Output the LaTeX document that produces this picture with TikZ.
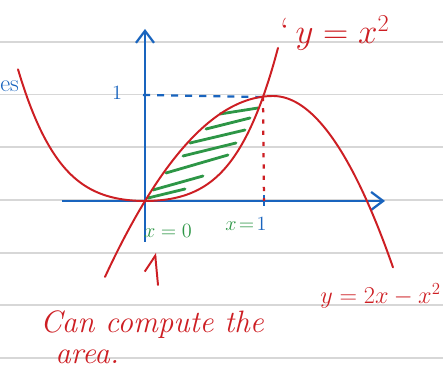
\documentclass[tikz,border=0pt]{standalone}
\usepackage{amsmath, amssymb}
\usepackage{xcolor}
\usetikzlibrary{arrows.meta, positioning, calc}
\definecolor{penred}{RGB}{205, 30, 35}
\definecolor{penblue}{RGB}{25, 100, 190}
\definecolor{pengreen}{RGB}{45, 150, 70}
\definecolor{ruling}{RGB}{215, 215, 215}

\begin{document}
\begin{tikzpicture}[
        x=0.025cm, y=-0.025cm,
        ruleline/.style = {ruling, line width=1.1pt},
        axis/.style = {penblue, line width=1.8pt, -{Straight Barb[length=3mm, width=4.5mm, line width=1.6pt]}},
        curve/.style = {penred, line width=1.4pt, line cap=round},
        hatch/.style = {pengreen, line width=2pt, line cap=round},
        guide/.style = {line width=1.6pt, dash pattern=on 5pt off 5pt},
        pointer/.style = {penred, line width=1.4pt, line cap=round, -{Straight Barb[left, length=3.7mm, width=6mm, line width=1.4pt]}},
        redlabel/.style = {penred, inner sep=0pt},
        bluelabel/.style = {penblue, inner sep=0pt},
        greenlabel/.style = {pengreen, inner sep=0pt, font=\Large}
    ]
        \useasboundingbox (0,0) rectangle (443,372);

        % Ruled paper
        \foreach \y in {42, 94.5, 147, 200, 253, 305, 358}
            \draw [ruleline] (0,\y) -- (443,\y);

        % Points
        \coordinate (O) at (145,201);
        \coordinate (xmin) at (62,201);
        \coordinate (xmax) at (385,201);
        \coordinate (ymin) at (145,242);
        \coordinate (ymax) at (145,29);
        \coordinate (yone) at (143,95);
        \coordinate (P) at (263,97);
        \coordinate (xone) at (264,201);
        \coordinate (arrtail) at (158,285);
        \coordinate (arrtip) at (155,253);

        % Axes
        \draw [axis] (xmin) -- (xmax);
        \draw [axis] (ymin) -- (ymax);
        \draw [penblue, line width=1.6pt] (264,195) -- (264,206);
        \draw [guide, penblue] (yone) -- (P);
        \draw [guide, penred, dash pattern=on 3pt off 5pt] (P) -- (xone);

        % Shaded region
        \foreach \a/\b/\c/\d in {220/114/258/108, 206/129/250/118, 190/143/245/130, 183/156/236/143,
                                 166/173/228/155, 153/190/203/176, 148/198/185/189}
            \draw [hatch] (\a,\b) -- (\c,\d);

        % Curves
        \draw [curve] plot [domain=-127:133, samples=80, smooth]
            ({145+\x}, {201-30.87*(\x/100)^2-31.47*(\x/100)^4});
        \draw [curve] plot [domain=-40:128, samples=50, smooth]
            ({145+\x}, {201-105+64.1*((\x-128)/100)^2})
            -- plot [domain=128:248, samples=50, smooth]
            ({145+\x}, {201-105+119*((\x-128)/100)^2});

        % Labels
        \node [bluelabel, font=\Large] (onelab) at (117,93) {$1$};
        \node [bluelabel, font=\LARGE, anchor=west] (es) at (0,86) {es};
        \node [greenlabel] (xzero) at (168,231) {$x = 0$};
        \node [greenlabel] (xonelab) at (246,224) {$x\!=\!{\color{penblue}1}$};
        \node [redlabel, font=\fontsize{26}{30}\selectfont, anchor=west] (sqlab) at (280,33) {\textquoteleft\,$y = x^2$};
        \node [redlabel, font=\LARGE, anchor=east] (parlab) at (441,296) {$y = 2x - x^2$};
        \node [redlabel, font=\fontsize{22}{26}\selectfont\itshape, anchor=west] (note) at (40,325) {Can compute the};
        \node [redlabel, font=\fontsize{22}{26}\selectfont\itshape, anchor=west] (note2) at (55,357) {area.};

        % Connectors
        \draw [pointer] (arrtail) -- (arrtip);
    \end{tikzpicture}
\end{document}
